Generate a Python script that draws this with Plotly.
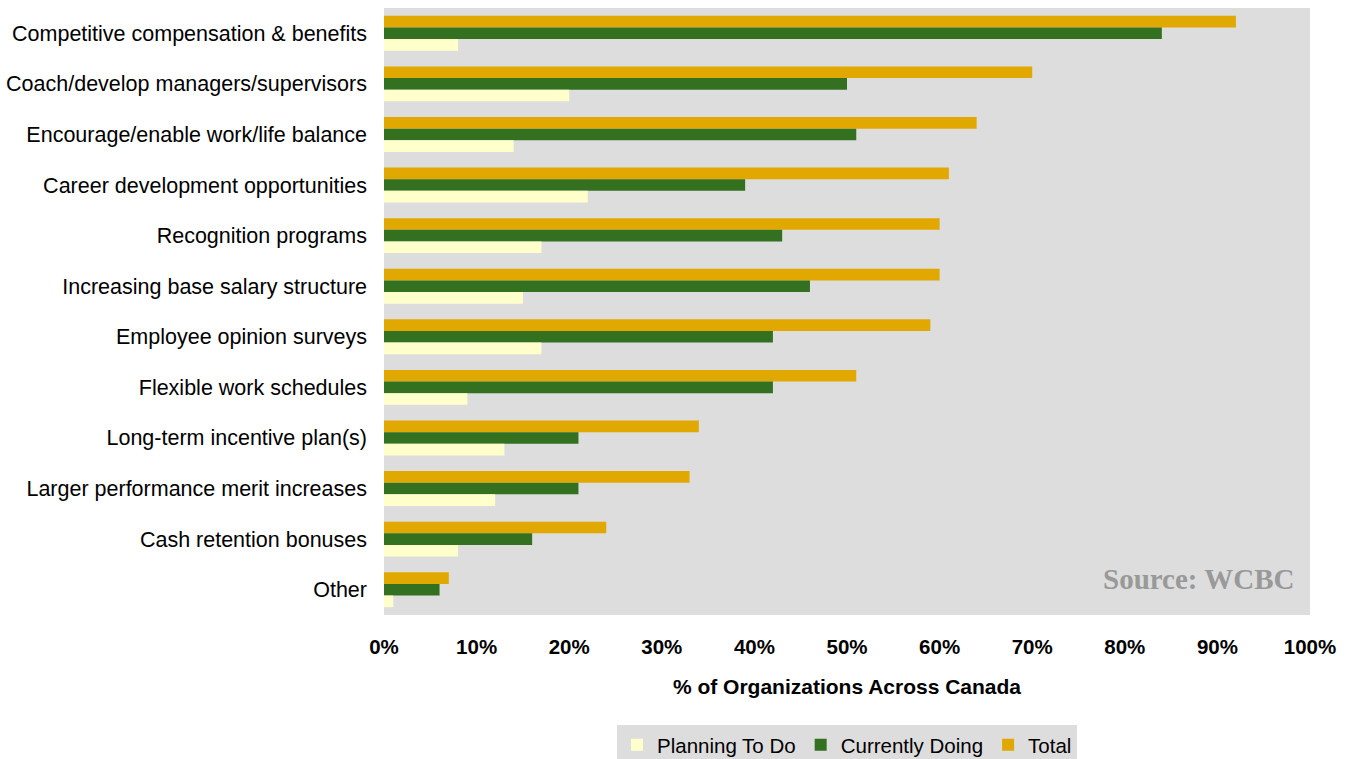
import plotly.graph_objects as go

categories = [
    "Competitive compensation & benefits",
    "Coach/develop managers/supervisors",
    "Encourage/enable work/life balance",
    "Career development opportunities",
    "Recognition programs",
    "Increasing base salary structure",
    "Employee opinion surveys",
    "Flexible work schedules",
    "Long-term incentive plan(s)",
    "Larger performance merit increases",
    "Cash retention bonuses",
    "Other",
]
planning = [8, 20, 14, 22, 17, 15, 17, 9, 13, 12, 8, 1]
current = [84, 50, 51, 39, 43, 46, 42, 42, 21, 21, 16, 6]
total = [92, 70, 64, 61, 60, 60, 59, 51, 34, 33, 24, 7]

x_ticks = [0, 10, 20, 30, 40, 50, 60, 70, 80, 90, 100]
x_tick_labels = [f"{v}%" for v in x_ticks]

FONT = "Arial, Liberation Sans, sans-serif"

fig = go.Figure()
fig.add_trace(go.Bar(y=categories, x=total, orientation="h", name="Total",
                     marker=dict(color="#E0A800", line=dict(width=0))))
fig.add_trace(go.Bar(y=categories, x=current, orientation="h", name="Currently Doing",
                     marker=dict(color="#337120", line=dict(width=0))))
fig.add_trace(go.Bar(y=categories, x=planning, orientation="h", name="Planning To Do",
                     marker=dict(color="#FFFFCC", line=dict(width=0))))

fig.update_layout(
    width=1351, height=759,
    margin=dict(l=384, r=41, t=8, b=144, autoexpand=False),
    paper_bgcolor="white",
    plot_bgcolor="#DDDDDD",
    barmode="group",
    bargap=0.31,
    bargroupgap=0,
    font=dict(family=FONT, color="black"),
    xaxis=dict(
        range=[0, 100],
        tickvals=x_ticks,
        ticktext=x_tick_labels,
        showgrid=False,
        zeroline=False,
        showline=False,
        ticks="",
        tickfont=dict(size=20.5, family=FONT, color="black", weight="bold"),
        ticklabelstandoff=17,
        title=dict(text="<b>% of Organizations Across Canada</b>",
                   font=dict(size=21, family=FONT, color="black"), standoff=22),
        fixedrange=True,
    ),
    yaxis=dict(
        autorange="reversed",
        showgrid=False,
        zeroline=False,
        showline=False,
        ticks="",
        tickfont=dict(size=21.5, family=FONT, color="black"),
        ticklabelstandoff=16,
        fixedrange=True,
    ),
    legend=dict(
        orientation="h",
        x=0.5, xanchor="center",
        y=-0.181, yanchor="top",
        bgcolor="#DDDDDD",
        traceorder="reversed",
        font=dict(size=20.5, family=FONT, color="black"),
        itemwidth=30,
        itemsizing="constant",
    ),
    showlegend=True,
    annotations=[
        dict(text="<b>Source: WCBC</b>", xref="paper", yref="paper",
             x=0.985, y=0.06, xanchor="right", yanchor="middle", showarrow=False,
             font=dict(family="Times New Roman, Liberation Serif, serif", size=29, color="#999999")),
    ],
)

fig.write_html("out.html")
